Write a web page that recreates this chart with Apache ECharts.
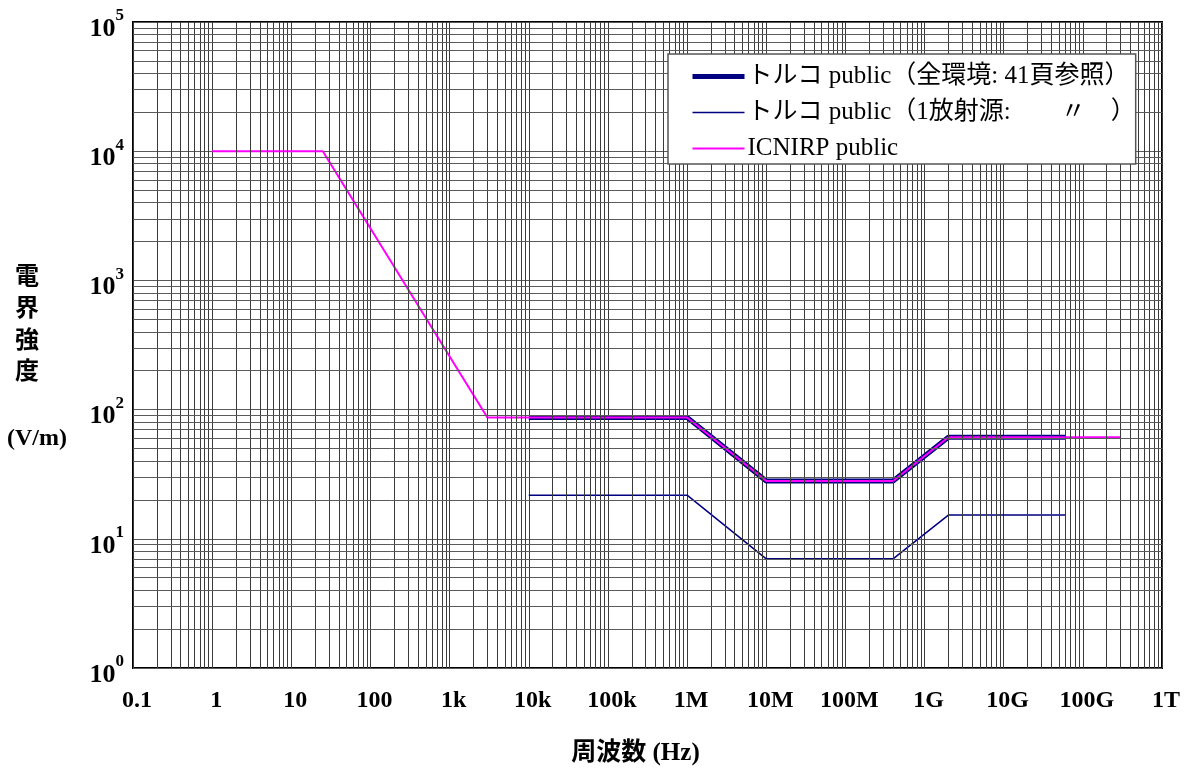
<!DOCTYPE html>
<html>
<head>
<meta charset="utf-8">
<script src="https://cdn.jsdelivr.net/npm/echarts@6/dist/echarts.min.js"></script>
<style>
html, body { margin: 0; padding: 0; background: #fff; }
#main { width: 1190px; height: 769px; }
</style>
</head>
<body>
<div id="main"></div>
<script>
// tick labels, 0.1 Hz .. 1 THz, one per decade
var freqTickLabels = ['0.1', '1', '10', '100', '1k', '10k', '100k', '1M', '10M', '100M', '1G', '10G', '100G', '1T'];

// limits (Hz, V/m)
var turkeyAllFreq  = [1e4, 1e6, 1e7, 4e8, 2e9, 6e10];
var turkeyAllField = [87, 87, 28, 28, 61, 61];
var turkeyOneFreq  = [1e4, 1e6, 1e7, 4e8, 2e9, 6e10];
var turkeyOneField = [21.75, 21.75, 7, 7, 15.25, 15.25];
var icnirpFreq  = [1, 25, 3000, 1e6, 1e7, 4e8, 2e9, 3e11];
var icnirpField = [10000, 10000, 87, 87, 28, 28, 61, 61];

var nameAll = 'トルコ public（全環境: 41頁参照）';
var nameOne = 'トルコ public（1放射源:　　〃　）';
var nameIcnirp = 'ICNIRP public';

function pairs(xs, ys) {
    return xs.map(function (x, i) { return [x, ys[i]]; });
}

var vColor = '#3a3a3a';
var hColor = '#5a5a5a';

// minor grid (2..9 in each decade)
var minorLines = [];
for (var k = -1; k < 12; k++) {
    for (var m = 2; m <= 9; m++) minorLines.push({ xAxis: m * Math.pow(10, k), lineStyle: { color: vColor } });
}
for (var k = 0; k < 5; k++) {
    for (var m = 2; m <= 9; m++) minorLines.push({ yAxis: m * Math.pow(10, k), lineStyle: { color: hColor } });
}

var serif = '"Liberation Serif", "Noto Sans CJK JP", serif';
var cjkFont = 'bold 24px "Noto Sans CJK JP"';

var myChart = echarts.init(document.getElementById('main'));
myChart.setOption({
    animation: false,
    grid: {
        left: 133,
        right: 28,
        top: 22,
        bottom: 101,
        outerBoundsMode: 'none',
        show: true,
        borderColor: '#000',
        borderWidth: 2
    },
    legend: {
        data: [
            { name: nameAll, lineStyle: { width: 5 } },
            { name: nameOne, lineStyle: { width: 1.5 } },
            { name: nameIcnirp, lineStyle: { width: 2 } }
        ],
        orient: 'vertical',
        left: 668,
        top: 54,
        z: 20,
        itemWidth: 52,
        itemHeight: 14,
        itemGap: 11,
        padding: [10, 0, 3, 22],
        itemStyle: { opacity: 0 },
        backgroundColor: '#fff',
        borderColor: '#555',
        borderWidth: 1.5,
        borderRadius: 0,
        textStyle: { fontFamily: serif, fontSize: 25, color: '#000', padding: [0, 0, 0, -2] }
    },
    xAxis: {
        type: 'log',
        logBase: 10,
        min: 0.1,
        max: 1e12,
        interval: 1,
        axisLine: { show: false },
        axisTick: { show: false },
        splitLine: { show: true, lineStyle: { color: vColor, width: 1 } },
        axisLabel: {
            margin: 21,
            fontFamily: serif,
            fontWeight: 'bold',
            fontSize: 24,
            color: '#000',
            padding: [0, 0, 0, 8],
            formatter: function (v) {
                return freqTickLabels[Math.round(Math.log10(v)) + 1];
            }
        },
        name: '周波数 (Hz)',
        nameLocation: 'middle',
        nameGap: 73,
        nameTextStyle: { fontFamily: serif, fontWeight: 'bold', fontSize: 25, color: '#000', padding: [0, 24, 0, 0] }
    },
    yAxis: {
        type: 'log',
        logBase: 10,
        min: 1,
        max: 1e5,
        axisLine: { show: false },
        axisTick: { show: false },
        splitLine: { show: true, lineStyle: { color: hColor, width: 1 } },
        axisLabel: {
            margin: 9,
            color: '#000',
            formatter: function (v) {
                return '{b|10}{s|' + Math.round(Math.log10(v)) + '}';
            },
            rich: {
                b: { fontFamily: serif, fontWeight: 'bold', fontSize: 26, color: '#000', padding: [14, 0, 0, 0] },
                s: { fontFamily: serif, fontWeight: 'bold', fontSize: 17, color: '#000', padding: [0, 0, 12, 0] }
            }
        }
    },
    graphic: [
        { type: 'text', left: 15, top: 263, style: { text: '電', font: cjkFont, fill: '#000' } },
        { type: 'text', left: 15, top: 295, style: { text: '界', font: cjkFont, fill: '#000' } },
        { type: 'text', left: 15, top: 327, style: { text: '強', font: cjkFont, fill: '#000' } },
        { type: 'text', left: 15, top: 358, style: { text: '度', font: cjkFont, fill: '#000' } },
        { type: 'text', left: 7, top: 427, style: { text: '(V/m)', font: 'bold 24px "Liberation Serif"', fill: '#000' } }
    ],
    series: [
        {
            name: 'grid',
            type: 'line',
            data: [],
            z: 1,
            silent: true,
            markLine: {
                silent: true,
                symbol: 'none',
                label: { show: false },
                animation: false,
                lineStyle: { width: 1, type: 'solid' },
                emphasis: { disabled: true },
                data: minorLines
            }
        },
        {
            name: nameAll,
            type: 'line',
            showSymbol: false,
            symbol: 'none',
            z: 3,
            data: pairs(turkeyAllFreq, turkeyAllField),
            lineStyle: { color: '#000080', width: 5 },
            itemStyle: { color: '#000080' }
        },
        {
            name: nameOne,
            type: 'line',
            showSymbol: false,
            symbol: 'none',
            z: 3,
            data: pairs(turkeyOneFreq, turkeyOneField),
            lineStyle: { color: '#000080', width: 1.5 },
            itemStyle: { color: '#000080' }
        },
        {
            name: nameIcnirp,
            type: 'line',
            showSymbol: false,
            symbol: 'none',
            z: 4,
            data: pairs(icnirpFreq, icnirpField),
            lineStyle: { color: '#ff00ff', width: 2 },
            itemStyle: { color: '#ff00ff' }
        }
    ]
});
</script>
</body>
</html>
